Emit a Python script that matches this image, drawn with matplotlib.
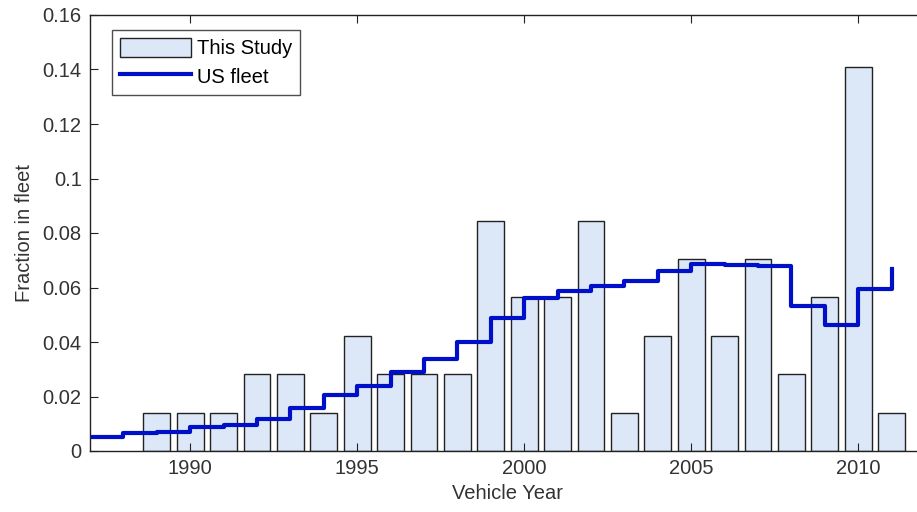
import matplotlib
matplotlib.use("Agg")
import matplotlib.pyplot as plt
import numpy as np

plt.rcParams['font.family'] = ['Liberation Sans', 'DejaVu Sans']

# Vehicle counts in this study (71 vehicles total), shown as fractions
years = np.arange(1989, 2012)
counts = [1, 1, 1, 2, 2, 1, 3, 2, 2, 2, 6, 4, 4, 6, 1, 3, 5, 3, 5, 2, 4, 10, 1]
study = np.array(counts) / 71.0

# US fleet fraction per model year (stairs)
fleet_years = np.arange(1987, 2012)
fleet = [0.0053, 0.0067, 0.0071, 0.0087, 0.0094, 0.0116, 0.0156, 0.0205,
         0.0240, 0.0290, 0.0339, 0.0400, 0.0487, 0.0562, 0.0588, 0.0605,
         0.0624, 0.0661, 0.0688, 0.0682, 0.0678, 0.0533, 0.0462, 0.0595,
         0.0667]

fig = plt.figure(figsize=(9.17, 5.12), dpi=100)
W, H = 917, 512
ax = fig.add_axes([90 / W, 1 - 451 / H, (925 - 90) / W, (451 - 15) / H])

bars = ax.bar(years, study, width=0.8, color='#dce8f8', edgecolor='#222222',
              linewidth=1.0, label='This Study')
line, = ax.step(fleet_years, fleet, where='post', color='#0010c8', linewidth=3,
                label='US fleet')

fs = 14.5
ax.set_xlim(1987, 2012)
ax.set_ylim(0, 0.16)
ax.set_xticks([1990, 1995, 2000, 2005, 2010])
ax.set_yticks(np.arange(0, 0.161, 0.02))
ax.yaxis.set_major_formatter(matplotlib.ticker.FuncFormatter(lambda v, p: '%g' % round(v, 4)))
ax.tick_params(direction='in', top=True, right=True, length=6, width=0.8,
               labelsize=fs, colors='#222222', labelcolor='#333333', pad=6)
for s in ax.spines.values():
    s.set_linewidth(1.0)
    s.set_color('#222222')

ax.set_xlabel('Vehicle Year', fontsize=fs, color='#333333', labelpad=4)
ax.set_ylabel('Fraction in fleet', fontsize=fs, color='#333333', labelpad=6)

leg = ax.legend(handles=[bars, line], loc='upper left',
                bbox_to_anchor=(22 / 835, 1 - 15 / 436),
                fontsize=fs, frameon=True, fancybox=False, borderpad=0.4,
                handlelength=3.5, handleheight=1.05, handletextpad=0.3,
                labelspacing=0.4, borderaxespad=0)
leg.get_frame().set_edgecolor('#222222')
leg.get_frame().set_linewidth(1.0)

fig.savefig('out.png', dpi=100)
